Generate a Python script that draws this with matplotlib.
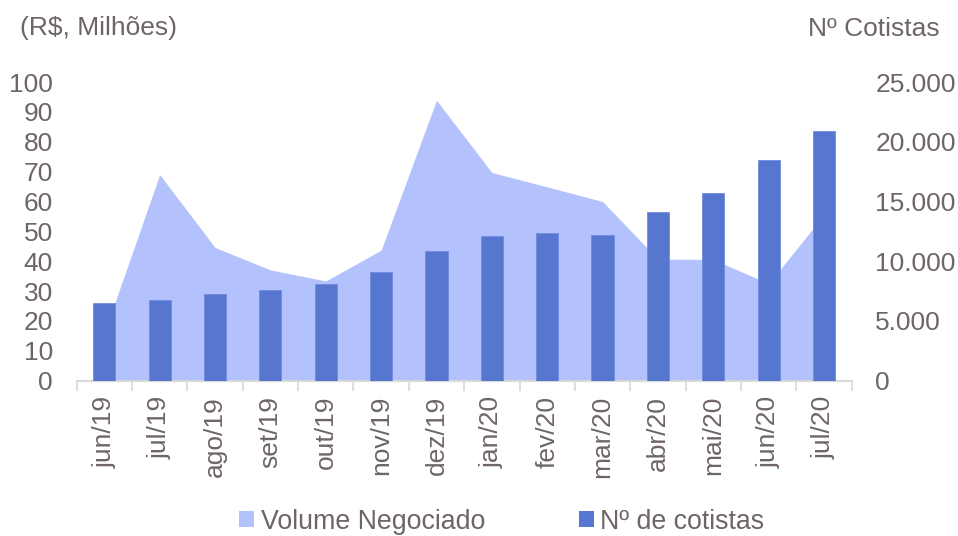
import numpy as np
import matplotlib.pyplot as plt
from matplotlib.patches import Patch
from matplotlib.ticker import FuncFormatter

plt.rcParams['font.family'] = ['Liberation Sans', 'DejaVu Sans']

meses = ['jun/19', 'jul/19', 'ago/19', 'set/19', 'out/19', 'nov/19', 'dez/19',
         'jan/20', 'fev/20', 'mar/20', 'abr/20', 'mai/20', 'jun/20', 'jul/20']
volume = [16, 69, 44.6, 37.1, 33.4, 43.7, 93.9, 69.7, 64.9, 60.0, 40.7, 40.6, 32.5, 55.5]
cotistas = [6520, 6720, 7220, 7580, 8110, 9110, 10840, 12100, 12370, 12180,
            14160, 15720, 18450, 20880]

cor_area = '#b3c2fc'
cor_barra = '#5776cf'
cor_texto = '#6f6565'
cor_eixo = '#d9d9d9'
fs = 19

fig = plt.figure(figsize=(9.58, 5.36), dpi=100)
ax = fig.add_axes([0.080, 0.2897, 0.809, 0.5573])
ax2 = ax.twinx()

x = np.arange(len(meses))
ax.fill_between(x, 0, volume, color=cor_area, linewidth=0)
ax2.bar(x, cotistas, width=0.4, color=cor_barra, edgecolor='#6f8ce0', linewidth=0.6)

ax.set_xlim(-0.5, len(meses) - 0.5)
ax.set_ylim(0, 100)
ax.set_yticks(np.arange(0, 101, 10))
ax2.set_ylim(0, 25000)
ax2.set_yticks(np.arange(0, 25001, 5000))
ax2.yaxis.set_major_formatter(FuncFormatter(lambda v, p: f'{int(v):,}'.replace(',', '.')))

ax.set_xticks(x)
ax.set_xticklabels(meses, rotation=90)
ax.set_xticks(np.arange(-0.5, len(meses)), minor=True)
ax.tick_params(axis='x', which='major', length=0, pad=11, labelsize=fs, labelcolor=cor_texto)
ax.tick_params(axis='x', which='minor', length=7, color=cor_eixo, width=1.2)
ax.tick_params(axis='y', length=0, pad=17, labelsize=fs, labelcolor=cor_texto)
ax2.tick_params(axis='y', length=0, pad=17, labelsize=fs, labelcolor=cor_texto)

for a in (ax, ax2):
    for s in ('top', 'left', 'right', 'bottom'):
        a.spines[s].set_visible(False)
ax.spines['bottom'].set_visible(True)
ax.spines['bottom'].set_color(cor_eixo)
ax.spines['bottom'].set_linewidth(1.5)

fig.text(0.021, 0.948, '(R$, Milhões)', fontsize=fs, color=cor_texto, va='center', ha='left')
fig.text(0.981, 0.946, 'Nº Cotistas', fontsize=fs, color=cor_texto, va='center', ha='right')

# a legenda fica colada na borda de baixo, como no original
handles = [Patch(facecolor=cor_area, label='Volume Negociado'),
           Patch(facecolor=cor_barra, label='Nº de cotistas')]
fig.legend(handles=handles, loc='center', bbox_to_anchor=(0.524, 0.027), ncol=2,
           frameon=False, fontsize=19.3, labelcolor=cor_texto, handlelength=0.55,
           handleheight=0.55, handletextpad=0.25, columnspacing=3.5,
           borderpad=0.2)

fig.savefig('out.png', dpi=100)
